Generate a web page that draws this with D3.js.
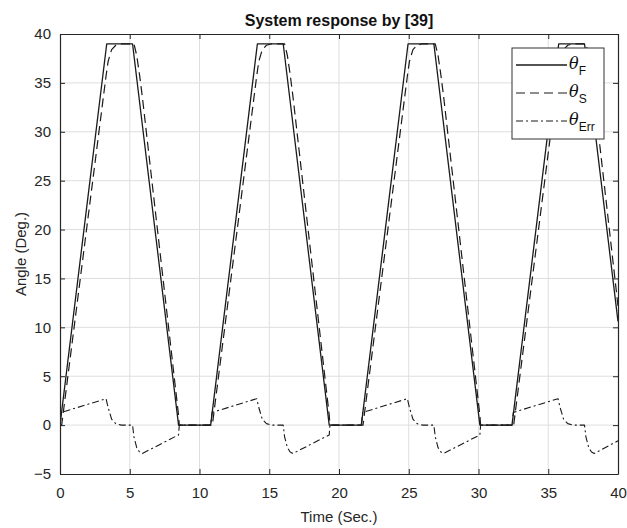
<!DOCTYPE html>
<html>
<head>
<meta charset="utf-8">
<script src="https://cdn.jsdelivr.net/npm/d3@7"></script>
<style>
  html, body { margin: 0; padding: 0; background: #fff; }
  svg { display: block; font-family: "Liberation Sans", Arial, sans-serif; }
</style>
</head>
<body>
<svg id="chart" width="627" height="528"></svg>
<script>
// ---------- data ----------
const chartTitle = "System response by [39]";
const xLabel = "Time (Sec.)";
const yLabel = "Angle (Deg.)";
const xTicks = [0, 5, 10, 15, 20, 25, 30, 35, 40];
const yTicks = [-5, 0, 5, 10, 15, 20, 25, 30, 35, 40];
const seriesNames = ["F", "S", "Err"];

// theta_F : [time, angle]
const thetaF = [
  [0, 0], [3.35, 39], [5.2, 39], [8.5, 0], [10.8, 0],
  [14.15, 39], [16.0, 39], [19.3, 0], [21.6, 0],
  [24.95, 39], [26.8, 39], [30.1, 0], [32.4, 0],
  [35.75, 39], [37.6, 39], [40, 10.6]
];

// theta_S : [time, angle]
const thetaS = [
  [0, 0], [0.12, 0], [3.3, 35.7], [3.45, 37.2], [3.7, 38.4], [4.0, 38.85], [4.4, 39],
  [5.3, 39], [5.5, 37.8], [5.7, 35.85], [5.9, 33.6], [8.5, 1.0], [8.55, 0], [10.8, 0],
  [10.92, 0], [14.1, 35.7], [14.25, 37.2], [14.5, 38.4], [14.8, 38.85], [15.2, 39],
  [16.1, 39], [16.3, 37.8], [16.5, 35.85], [16.7, 33.6], [19.3, 1.0], [19.35, 0], [21.6, 0],
  [21.72, 0], [24.9, 35.7], [25.05, 37.2], [25.3, 38.4], [25.6, 38.85], [26.0, 39],
  [26.9, 39], [27.1, 37.8], [27.3, 35.85], [27.5, 33.6], [30.1, 1.0], [30.15, 0], [32.4, 0],
  [32.52, 0], [35.7, 35.7], [35.85, 37.2], [36.1, 38.4], [36.4, 38.85], [36.8, 39],
  [37.7, 39], [37.9, 37.8], [38.1, 35.85], [38.3, 33.6], [40, 12.2]
];

// theta_Err : [time, angle]
const thetaErr = [
  [0, 0], [0.1, 1.3], [3.3, 2.7], [3.45, 1.8], [3.7, 0.6], [4.0, 0.15], [4.4, 0],
  [5.2, 0], [5.3, -1.2], [5.5, -2.3], [5.7, -2.75], [5.9, -2.9], [8.5, -1.0], [8.55, 0], [10.8, 0],
  [10.9, 1.3], [14.1, 2.7], [14.25, 1.8], [14.5, 0.6], [14.8, 0.15], [15.2, 0],
  [16.0, 0], [16.1, -1.2], [16.3, -2.3], [16.5, -2.75], [16.7, -2.9], [19.3, -1.0], [19.35, 0], [21.6, 0],
  [21.7, 1.3], [24.9, 2.7], [25.05, 1.8], [25.3, 0.6], [25.6, 0.15], [26.0, 0],
  [26.8, 0], [26.9, -1.2], [27.1, -2.3], [27.3, -2.75], [27.5, -2.9], [30.1, -1.0], [30.15, 0], [32.4, 0],
  [32.5, 1.3], [35.7, 2.7], [35.85, 1.8], [36.1, 0.6], [36.4, 0.15], [36.8, 0],
  [37.6, 0], [37.7, -1.2], [37.9, -2.3], [38.1, -2.75], [38.3, -2.9], [40, -1.6]
];

// ---------- layout ----------
const svg = d3.select("#chart");
const pL = 60, pR = 618, pT = 34, pB = 474;
const x = d3.scaleLinear().domain([0, 40]).range([pL, pR]);
const y = d3.scaleLinear().domain([-5, 40]).range([pB, pT]);
const axisColor = "#262626";

// grid
const grid = svg.append("g");
grid.selectAll("line.gx").data(xTicks.slice(1, -1)).join("line")
  .attr("x1", d => x(d)).attr("x2", d => x(d)).attr("y1", pT).attr("y2", pB)
  .attr("stroke", "#dedede").attr("stroke-width", 1);
grid.selectAll("line.gy").data(yTicks.slice(1, -1)).join("line")
  .attr("x1", pL).attr("x2", pR).attr("y1", d => y(d)).attr("y2", d => y(d))
  .attr("stroke", "#dedede").attr("stroke-width", 1);

// clip
svg.append("clipPath").attr("id", "clip").append("rect")
  .attr("x", pL).attr("y", pT).attr("width", pR - pL).attr("height", pB - pT);

const line = d3.line().x(d => x(d[0])).y(d => y(d[1]));
const plot = svg.append("g").attr("clip-path", "url(#clip)");
const styles = [
  { data: thetaF, dash: null, color: "#1a1a1a", w: 1.3 },
  { data: thetaS, dash: "9,5", color: "#1a1a1a", w: 1.2 },
  { data: thetaErr, dash: "7,3,2,3", color: "#1a1a1a", w: 1.1 }
];
styles.forEach(s => {
  plot.append("path").datum(s.data).attr("d", line)
    .attr("fill", "none").attr("stroke", s.color).attr("stroke-width", s.w)
    .attr("stroke-dasharray", s.dash).attr("stroke-linejoin", "round");
});

// axes (MATLAB style: inward ticks on all sides)
const tickLen = 5;
const ax = svg.append("g");
const xb = d3.axisBottom(x).tickValues(xTicks).tickSizeInner(-tickLen).tickSizeOuter(0).tickPadding(13);
const xt = d3.axisTop(x).tickValues(xTicks).tickSizeInner(-tickLen).tickSizeOuter(0).tickFormat("");
const yl = d3.axisLeft(y).tickValues(yTicks).tickSizeInner(-tickLen).tickSizeOuter(0).tickPadding(9);
const yr = d3.axisRight(y).tickValues(yTicks).tickSizeInner(-tickLen).tickSizeOuter(0).tickFormat("");
const gxb = ax.append("g").attr("transform", `translate(0,${pB})`).call(xb);
const gxt = ax.append("g").attr("transform", `translate(0,${pT})`).call(xt);
const gyl = ax.append("g").attr("transform", `translate(${pL},0)`).call(yl);
const gyr = ax.append("g").attr("transform", `translate(${pR},0)`).call(yr);
[gxb, gxt, gyl, gyr].forEach(g => {
  g.selectAll("path.domain").attr("stroke", axisColor).attr("stroke-width", 1.2);
  g.selectAll("line").attr("stroke", axisColor);
  g.selectAll("text").attr("fill", "#262626").style("font-size", "15px")
    .style("font-family", "'Liberation Sans', Arial, sans-serif");
});

// labels
svg.append("text").attr("x", (pL + pR) / 2).attr("y", 26).attr("text-anchor", "middle")
  .style("font-size", "16px").style("font-weight", "bold").attr("fill", "#111").text(chartTitle);
svg.append("text").attr("x", (pL + pR) / 2).attr("y", 522).attr("text-anchor", "middle")
  .style("font-size", "15px").attr("fill", "#262626").text(xLabel);
svg.append("text").attr("transform", `translate(26,${(pT + pB) / 2}) rotate(-90)`)
  .attr("text-anchor", "middle").style("font-size", "15px").attr("fill", "#262626").text(yLabel);

// legend
const lg = svg.append("g");
lg.append("rect").attr("x", 512).attr("y", 48).attr("width", 92).attr("height", 91)
  .attr("fill", "#fff").attr("stroke", "#333").attr("stroke-width", 1);
const rowsY = [65, 93, 121];
styles.forEach((s, i) => {
  lg.append("line").attr("x1", 516).attr("x2", 567).attr("y1", rowsY[i]).attr("y2", rowsY[i])
    .attr("stroke", s.color).attr("stroke-width", s.w).attr("stroke-dasharray", s.dash);
  const t = lg.append("text").attr("x", 569).attr("y", rowsY[i] + 4).attr("fill", "#111");
  t.append("tspan").style("font-size", "16px").style("font-style", "italic")
    .style("font-family", "'DejaVu Serif', 'Liberation Serif', serif").text("θ");
  t.append("tspan").attr("dy", 6).style("font-size", "12px")
    .style("font-family", "'Liberation Sans', Arial, sans-serif").text(seriesNames[i]);
});
</script>
</body>
</html>
